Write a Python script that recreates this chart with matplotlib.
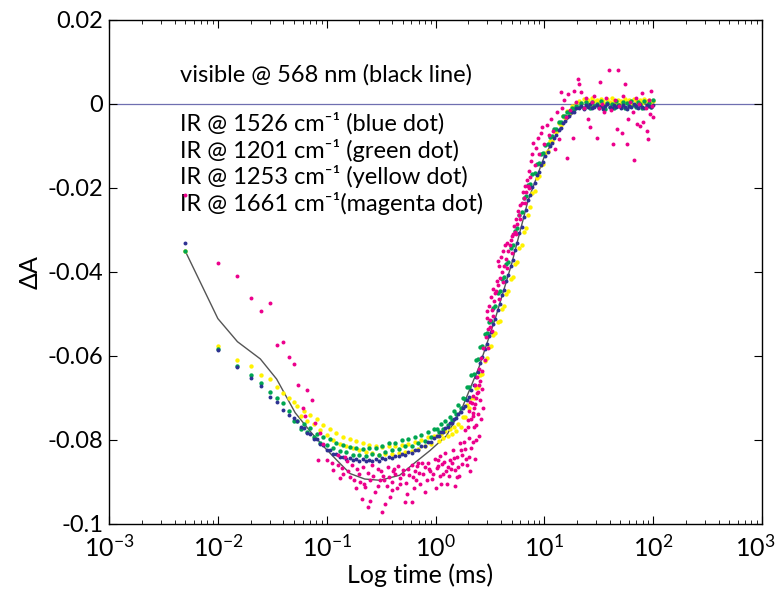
import numpy as np
import matplotlib
matplotlib.use('Agg')
import matplotlib.pyplot as plt
import matplotlib.transforms as mtransforms

plt.rcParams['font.family'] = ['Lato', 'DejaVu Sans']
plt.rcParams['mathtext.fontset'] = 'custom'
plt.rcParams['mathtext.rm'] = 'Lato'
plt.rcParams['mathtext.it'] = 'Lato'
plt.rcParams['axes.unicode_minus'] = False

# shared sampling times of the IR traces, log10(ms)
logt_ir = [-2.30, -2.00, -1.82, -1.70, -1.60, -1.52, -1.46, -1.40, -1.35, -1.30,
           -1.27, -1.24, -1.21, -1.18, -1.15, -1.12, -1.09, -1.06, -1.03, -1.00,
           -0.97, -0.94, -0.91, -0.88, -0.85, -0.82, -0.79, -0.76, -0.73, -0.70,
           -0.67, -0.64, -0.61, -0.58, -0.55, -0.52, -0.49, -0.46, -0.43, -0.40,
           -0.37, -0.34, -0.31, -0.28, -0.25, -0.22, -0.19, -0.16, -0.13, -0.10,
           -0.07, -0.04, -0.01,
           0.01, 0.03, 0.05, 0.07, 0.09, 0.11, 0.13, 0.15, 0.17, 0.19,
           0.21, 0.23, 0.25, 0.27, 0.29, 0.31, 0.33, 0.35, 0.37, 0.39,
           0.41, 0.43, 0.45, 0.47, 0.49, 0.51, 0.53, 0.55, 0.57, 0.59,
           0.61, 0.63, 0.65, 0.67, 0.69, 0.71, 0.73, 0.75, 0.77, 0.79,
           0.81, 0.83, 0.85, 0.87, 0.89, 0.91, 0.93, 0.95, 0.97, 0.99,
           1.01, 1.03, 1.05, 1.07, 1.09, 1.11, 1.13, 1.15, 1.17, 1.19,
           1.21, 1.23, 1.25, 1.27, 1.29,
           1.32, 1.34, 1.36, 1.38, 1.40, 1.42, 1.44, 1.46, 1.48, 1.50,
           1.52, 1.54, 1.56, 1.58, 1.60, 1.62, 1.64, 1.66, 1.68, 1.70,
           1.72, 1.74, 1.76, 1.78, 1.80, 1.82, 1.84, 1.86, 1.88, 1.90,
           1.92, 1.94, 1.96, 1.98, 2.00]

# values in units of 1e-3 (mOD)
blue_1526 = [-33.0, -58.6, -62.6, -65.2, -67.2, -69.7, -70.9, -72.8, -74.0, -74.7,
             -75.6, -76.8, -77.1, -78.3, -78.5, -79.7, -79.8, -81.0, -81.2, -82.3,
             -82.3, -83.3, -83.3, -84.1, -84.0, -84.6, -84.3, -84.8, -84.5, -85.0,
             -84.6, -85.1, -84.7, -85.1, -84.6, -84.9, -84.4, -84.6, -84.1, -84.3,
             -83.7, -83.9, -83.3, -83.5, -82.9, -83.0, -82.3, -82.4, -81.5, -81.5,
             -80.6, -80.5, -79.6,
             -79.1, -79.0, -78.1, -78.0, -77.1, -76.9, -75.9, -76.0, -75.1, -74.8,
             -73.7, -73.4, -72.3, -72.0, -70.6, -69.7, -68.1, -67.0, -65.0, -63.8,
             -61.6, -60.2, -58.3, -57.2, -55.3, -54.2, -52.3, -51.2, -49.1, -47.7,
             -45.6, -44.2, -42.1, -40.7, -38.6, -37.2, -34.8, -33.2, -30.8, -29.2,
             -26.8, -25.2, -22.8, -21.7, -19.8, -18.8, -17.0, -16.2, -14.6, -13.8,
             -12.3, -11.5, -10.0, -9.4, -8.0, -7.5, -6.2, -5.8, -4.5, -4.1,
             -3.0, -2.8, -1.9, -1.8, -1.0,
             -0.9, -0.5, -1.2, -0.3, -0.8, -0.1, -1.0, -0.6, -0.2, -0.9,
             -0.4, -1.1, -0.5, 0.0, -0.7, -1.0, -0.3, -0.8, -0.4, -0.9,
             -0.2, -0.6, -1.1, -0.4, -0.7, 0.1, -0.5, -0.9, -0.3, -0.6,
             -1.0, -0.2, -0.5, -0.8, -0.3]

green_1201 = [-35.0, -58.3, -62.4, -64.5, -66.5, -68.5, -70.0, -71.3, -73.0, -75.4,
              -75.4, -77.3, -76.2, -78.1, -77.2, -79.4, -78.5, -80.7, -79.2, -81.1,
              -79.8, -82.0, -80.8, -82.6, -81.1, -82.9, -81.7, -83.6, -81.8, -83.6,
              -82.2, -83.8, -81.8, -83.4, -81.9, -83.5, -81.4, -82.9, -80.8, -82.5,
              -80.7, -82.2, -80.1, -81.5, -79.8, -81.5, -79.2, -80.7, -78.9, -80.2,
              -78.2, -79.4, -77.5,
              -77.3, -78.1, -76.2, -77.3, -75.4, -76.5, -74.5, -75.2, -73.1, -73.9,
              -71.7, -72.4, -70.0, -70.2, -67.5, -67.4, -64.5, -64.3, -61.0, -60.7,
              -57.8, -57.7, -54.8, -54.6, -51.8, -51.7, -48.6, -48.2, -45.1, -44.6,
              -41.6, -41.2, -38.1, -37.6, -34.3, -33.6, -30.3, -29.6, -26.4, -25.6,
              -22.4, -22.0, -19.4, -19.1, -16.6, -16.5, -14.2, -14.0, -12.0, -11.7,
              -9.7, -9.6, -7.8, -7.7, -6.0, -5.9, -4.4, -4.2, -2.9, -2.9,
              -1.8, -1.9, -0.9, -1.2, -0.4,
              -0.6, 0.2, -0.9, 0.4, -0.3, -1.0, 0.5, -0.5, 0.1, -0.8,
              0.6, -0.4, -1.1, 0.3, -0.6, 0.0, -0.9, 0.7, -0.2, -0.7,
              0.4, -1.0, 0.2, -0.5, 0.8, -0.3, -0.8, 0.5, -0.1, -0.9,
              0.6, -0.4, 0.2, -0.7, 0.9]

yellow_1253 = [-35.0, -57.6, -61.0, -62.4, -64.6, -65.5, -67.5, -68.7, -70.0, -71.0,
               -72.0, -74.3, -73.1, -75.4, -74.0, -76.3, -75.0, -77.6, -76.5, -78.9,
               -77.5, -79.9, -78.4, -80.9, -79.2, -81.4, -79.8, -82.0, -80.3, -82.5,
               -80.7, -82.8, -81.1, -83.2, -81.5, -83.5, -81.6, -83.4, -81.5, -83.4,
               -81.4, -83.2, -81.2, -82.9, -80.9, -82.6, -80.5, -82.1, -79.9, -81.5,
               -79.4, -81.0, -79.0,
               -79.0, -80.2, -78.5, -79.6, -77.9, -79.1, -77.5, -78.6, -76.8, -77.9,
               -76.2, -77.0, -74.5, -74.6, -71.7, -72.4, -70.1, -70.1, -67.7, -67.4,
               -64.6, -64.2, -61.2, -60.6, -57.9, -57.6, -54.9, -54.6, -51.9, -51.6,
               -48.7, -48.1, -45.2, -44.6, -41.7, -41.1, -38.2, -37.6, -34.4, -33.6,
               -30.4, -29.6, -26.4, -24.6, -21.3, -20.6, -17.7, -17.2, -14.5, -14.2,
               -11.6, -11.3, -8.8, -8.8, -6.5, -6.6, -4.6, -4.9, -2.9, -3.4,
               -1.6, -2.1, -0.5, -1.0, 0.3,
               0.8, 0.2, 1.3, 0.5, 1.0, 0.1, 1.5, 0.6, 0.9, 0.3,
               1.2, 0.7, 0.0, 1.1, 0.4, 1.4, 0.6, 0.2, 1.0, 0.8,
               0.3, 1.3, 0.5, 0.9, 0.1, 1.2, 0.7, 0.4, 1.0, 0.2,
               1.1, 0.6, 0.9, 0.3, 0.8]

# magenta trace (1661 cm-1), noisier, own sampling
logt_mag = [-2.30, -2.00, -1.82, -1.70, -1.60, -1.52, -1.46, -1.40, -1.35, -1.30,
            -1.263, -1.217, -1.20, -1.180, -1.134, -1.107, -1.08, -1.061, -1.03, -0.996,
            -0.950, -0.941, -0.90, -0.88, -0.858, -0.831, -0.812, -0.785, -0.767, -0.73,
            -0.721, -0.693, -0.675, -0.665, -0.647, -0.62, -0.619, -0.601, -0.583, -0.555,
            -0.528, -0.509, -0.491, -0.482, -0.46, -0.445, -0.436, -0.42, -0.399, -0.390,
            -0.371, -0.35, -0.344, -0.325, -0.298, -0.279, -0.261, -0.252, -0.215, -0.206,
            -0.20, -0.188, -0.169, -0.160, -0.142, -0.114, -0.10, -0.096, -0.068, -0.050,
            -0.031, -0.004, 0.0, 0.015, 0.024, 0.042, 0.05, 0.061, 0.070, 0.088,
            0.107, 0.116, 0.12, 0.134, 0.153, 0.162, 0.18, 0.180, 0.199, 0.208,
            0.22, 0.226, 0.235, 0.244, 0.263, 0.272, 0.281, 0.29, 0.300, 0.309,
            0.32, 0.327, 0.336, 0.346, 0.355, 0.36, 0.373, 0.382, 0.40, 0.42, 0.44,
            -0.90, -0.85, -0.80, -0.75, -0.70, -0.66, -0.60, -0.57, -0.53, -0.50,
            -0.47, -0.43, -0.40, -0.38, -0.33, -0.30, -0.27, -0.24, -0.22, -0.18,
            -0.15, -0.12, -0.08, -0.06, -0.02, 0.02, 0.04, 0.08, 0.10, 0.14,
            0.17, 0.20, 0.24, 0.27, 0.31, 0.34, 0.37, 0.39, 0.41, 0.43,
            0.30, 0.31, 0.32, 0.33, 0.34, 0.35, 0.36, 0.37, 0.38, 0.39,
            0.40, 0.41, 0.42, 0.43, 0.44, 0.45, 0.46, 0.47, 0.475, 0.48,
            0.49, 0.50, 0.51, 0.52, 0.53, 0.54, 0.55, 0.56, 0.565, 0.57,
            0.575, 0.58, 0.59, 0.60, 0.61, 0.62, 0.63, 0.64, 0.65, 0.66,
            0.67, 0.68, 0.69, 0.70, 0.71, 0.72, 0.73, 0.74, 0.75, 0.76,
            0.77, 0.78, 0.79, 0.80, 0.81, 0.82, 0.83, 0.84, 0.85, 0.86,
            0.87, 0.88, 0.89, 0.90, 0.91, 0.92, 0.94, 0.95, 0.97, 0.98,
            1.00, 1.02, 1.04, 1.06, 1.08, 1.10, 1.12, 1.13, 1.15, 1.16,
            1.18, 1.20, 1.21, 1.22, 1.24, 1.26, 1.27, 1.29, 1.31, 1.32,
            1.34, 1.36, 1.38, 1.40, 1.42, 1.44, 1.46, 1.48, 1.50, 1.51,
            1.53, 1.55, 1.57, 1.59, 1.61, 1.63, 1.65, 1.67, 1.68, 1.69,
            1.71, 1.72, 1.74, 1.76, 1.77, 1.79, 1.81, 1.82, 1.84, 1.85,
            1.87, 1.88, 1.90, 1.91, 1.93, 1.94, 1.95, 1.96, 1.97, 1.98,
            1.99, 2.00,
            0.34, 0.36, 0.40, 0.48, 0.50, 0.52, 0.53, 0.58, 0.62, 0.66,
            0.70, 0.74, 0.78, 0.82, 0.86]
magenta_1661 = [-21.7, -37.8, -41.0, -46.3, -49.2, -47.5, -57.4, -56.6, -60.3, -62.0,
                -67.0, -72.3, -74.2, -68.0, -70.6, -75.9, -84.8, -78.3, -81.0, -84.8,
                -85.5, -87.2, -83.5, -89.0, -86.7, -84.0, -85.0, -88.7, -86.0, -91.5,
                -87.0, -89.9, -94.0, -86.5, -91.1, -96.0, -87.8, -94.5, -86.0, -92.3,
                -87.0, -89.6, -97.1, -88.5, -95.2, -90.9, -86.5, -93.5, -92.0, -87.5,
                -88.0, -91.5, -86.2, -90.4, -88.0, -94.7, -92.8, -86.8, -94.7, -88.7,
                -91.5, -87.5, -86.3, -85.5, -90.4, -88.0, -92.5, -86.5, -85.5, -87.5,
                -89.2, -84.5, -91.5, -86.7, -86.2, -83.9, -90.5, -85.8, -88.0, -83.0,
                -90.4, -86.5, -88.5, -84.8, -85.5, -82.4, -91.0, -87.2, -84.0, -86.5,
                -88.5, -80.7, -82.5, -83.6, -80.5, -77.6, -84.5, -86.0, -75.2, -79.5,
                -87.5, -82.0, -71.1, -74.2, -77.0, -84.5, -80.0, -68.7, -79.0, -75.0, -72.5,
                -86.0, -88.0, -87.5, -89.5, -88.0, -90.5, -89.5, -88.5, -91.0, -87.5,
                -89.5, -88.8, -90.0, -86.8, -89.0, -87.2, -90.2, -88.3, -86.0, -89.5,
                -87.8, -85.5, -89.6, -86.8, -88.2, -84.8, -88.6, -85.2, -87.5, -86.9,
                -84.2, -88.8, -85.8, -82.2, -84.0, -80.5, -76.5, -73.8, -70.5, -67.8,
                -77.0, -73.0, -71.0, -75.0, -69.5, -72.5, -67.0, -70.0, -65.0, -68.5,
                -63.0, -66.0, -60.5, -63.5, -58.0, -61.0, -55.5, -51.0, -49.4, -53.5,
                -48.0, -51.5, -46.0, -49.0, -44.0, -47.0, -45.0, -44.5, -42.2, -37.5,
                -43.0, -38.5, -41.5, -36.5, -40.0, -35.0, -38.5, -33.5, -37.0, -33.0,
                -35.0, -33.5, -32.5, -31.5, -31.0, -29.0, -30.5, -27.5, -28.5, -25.5,
                -26.5, -24.0, -23.5, -21.0, -22.5, -19.5, -21.0, -18.0, -19.5, -16.0,
                -17.5, -13.5, -12.0, -9.2, -14.5, -10.4, -8.0, -12.0, -6.8, -5.5,
                -9.5, -5.0, -7.5, -3.5, -6.5, -10.8, -2.0, -8.4, 2.9, -1.0,
                1.0, -3.0, -12.8, 2.4, -1.5, -8.0, 3.0, 0.5, 6.0, 4.8,
                2.9, -1.0, 1.5, -3.6, -5.5, 0.5, 2.0, -8.0, -1.0, 5.3,
                0.0, -2.0, 1.5, 8.0, -1.5, -9.6, 1.0, -6.0, 8.0, -0.5,
                -6.8, 2.0, 4.8, -9.6, -3.6, 0.5, -2.0, -13.3, 1.5, -4.8,
                0.0, -5.3, 2.5, -4.3, -1.0, -6.5, -8.4, 1.0, -2.5, 3.0,
                -0.5, -3.0,
                -73.5, -71.5, -67.0, -58.0, -53.0, -54.0, -50.5, -46.5, -42.5, -39.0,
                -35.5, -31.0, -27.5, -23.5, -20.0]

# visible trace at 568 nm (black line)
logt_vis = [-2.30, -2.00, -1.82, -1.61, -1.46, -1.29, -1.15, -1.03, -0.90, -0.785,
            -0.65, -0.51, -0.33, -0.17, -0.05, 0.10, 0.25, 0.40, 0.55, 0.70,
            0.85, 1.00, 1.15, 1.30, 1.60, 2.00]
vis_568 = [-35.0, -51.1, -56.6, -60.7, -65.5, -73.5, -78.0, -81.5, -85.0, -88.0,
           -89.3, -89.6, -88.4, -85.0, -82.5, -79.0, -72.0, -62.6, -51.0, -38.0,
           -23.0, -12.5, -5.5, -1.0, 0.0, 0.0]

xtick_vals = [1e-3, 1e-2, 1e-1, 1e0, 1e1, 1e2, 1e3]
ytick_vals = [-0.1, -0.08, -0.06, -0.04, -0.02, 0, 0.02]
ytick_labels = ['-0.1', '-0.08', '-0.06', '-0.04', '-0.02', '0', '0.02']

fig = plt.figure(figsize=(7.76, 5.93), dpi=100)
ax = fig.add_axes([0.1405, 0.1164, 0.8415, 0.8499])

t_ir = 10 ** np.array(logt_ir)
ax.axhline(0, color='#6f6fb0', lw=0.9, zorder=1)
ax.plot(10 ** np.array(logt_vis), np.array(vis_568) / 1000, color='#555555', lw=1.0, zorder=2)
ax.scatter(t_ir, np.array(yellow_1253) / 1000, s=10, color='#fff200', linewidths=0, zorder=3)
ax.scatter(t_ir, np.array(green_1201) / 1000, s=10, color='#00a651', linewidths=0, zorder=4)
ax.scatter(t_ir, np.array(blue_1526) / 1000, s=8, color='#2e3192', linewidths=0, zorder=5)
ax.scatter(10 ** np.array(logt_mag), np.array(magenta_1661) / 1000, s=8, color='#ec008c',
           linewidths=0, zorder=6)

ax.set_xscale('log')
ax.set_xlim(1e-3, 1e3)
ax.set_ylim(-0.1, 0.02)
ax.set_xticks(xtick_vals)
ax.set_yticks(ytick_vals)
ax.set_yticklabels(ytick_labels)
ax.tick_params(which='both', direction='in', top=True, right=True)
ax.tick_params(which='major', length=6)
ax.tick_params(which='minor', length=3)
ax.tick_params(axis='y', labelsize=17, pad=4)
ax.tick_params(axis='x', labelsize=18, pad=7)
for sp in ax.spines.values():
    sp.set_linewidth(1.0)

# nudge the last x label so it stays inside the figure
fig.canvas.draw()
last = ax.xaxis.get_major_ticks()[-1].label1
last.set_transform(last.get_transform() +
                   mtransforms.ScaledTranslation(-5 / 72, 0, fig.dpi_scale_trans))

fig.text(420 / 776, 1 - 575 / 593, 'Log time (ms)', fontsize=18, ha='center', va='center')
fig.text(30 / 776, 1 - 272 / 593, '\u0394A', fontsize=18, ha='center', va='center',
         rotation=90)

ax.text(0.109, 0.891, 'visible @ 568 nm (black line)', transform=ax.transAxes,
        fontsize=17, va='center')
ir_lines = ['IR @ 1526 cm\u207b\u00b9 (blue dot)', 'IR @ 1201 cm\u207b\u00b9 (green dot)',
            'IR @ 1253 cm\u207b\u00b9 (yellow dot)', 'IR @ 1661 cm\u207b\u00b9(magenta dot)']
for i, s in enumerate(ir_lines):
    ax.text(0.109, 0.795 - i * 0.053, s, transform=ax.transAxes, fontsize=17, va='center')

fig.savefig('out.png', dpi=100)
